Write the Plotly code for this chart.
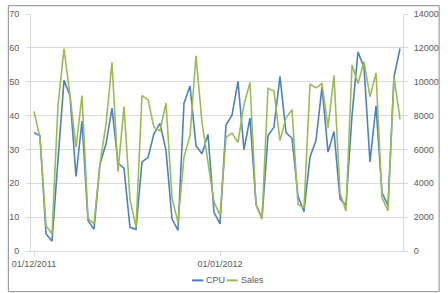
import pandas as pd
import plotly.graph_objects as go

start_date = "2011-12-01"
n_days = 62
dates = pd.date_range(start_date, periods=n_days, freq="D")

cpu = [35.0, 34.0, 5.1, 2.9, 27.0, 50.4, 45.9, 22.0, 38.4, 9.0,
       6.4, 25.8, 31.6, 42.2, 26.0, 24.4, 7.0, 6.4, 26.3, 27.6,
       34.7, 37.7, 29.7, 9.5, 6.1, 43.7, 48.7, 31.1, 28.7, 34.5,
       11.4, 8.0, 37.2, 40.1, 50.1, 29.9, 39.3, 13.8, 9.6, 34.0,
       36.6, 51.6, 35.0, 33.3, 16.2, 11.6, 27.8, 32.6, 48.5, 29.2,
       35.3, 15.4, 13.5, 40.0, 58.8, 54.3, 26.3, 42.9, 17.2, 13.5,
       51.4, 59.8]

sales = [8250, 6700, 1500, 1020, 8600, 11950, 9200, 6130, 9180, 1930,
         1600, 5170, 7480, 11150, 4690, 8540, 3050, 1410, 9180, 8930,
         7300, 7100, 8740, 3140, 1700, 5550, 6810, 11530, 7580, 5360,
         2900, 2120, 6710, 6960, 6420, 8640, 9950, 2720, 1890, 9600,
         9450, 6520, 7870, 8350, 2760, 2560, 9840, 9640, 9890, 7290,
         10370, 3430, 2370, 10990, 9890, 11180, 9120, 10510, 3140, 2370,
         10280, 7770]

x_tick_vals = ["2011-12-01", "2012-01-01"]
x_tick_text = ["01/12/2011", "01/01/2012"]
series_names = ["CPU", "Sales"]

BLUE = "#4F81BD"
GREEN = "#9BBB59"
GRID = "#d9d9d9"
TXT = "#595959"
FONT = "Liberation Sans, Arial, sans-serif"

W, H = 448, 293
ML, MR, MT, MB = 24, 38, 9, 42
PW, PH = W - ML - MR, H - MT - MB


def px(xp):
    return (xp - ML) / PW


def py(yp):
    return (H - MB - yp) / PH


fig = go.Figure()
fig.add_trace(go.Scatter(x=dates, y=cpu, name=series_names[0], mode="lines",
                         line=dict(color=BLUE, width=1.6), yaxis="y"))
fig.add_trace(go.Scatter(x=dates, y=sales, name=series_names[1], mode="lines",
                         line=dict(color=GREEN, width=1.6), yaxis="y2"))

shapes = [
    dict(type="rect", xref="paper", yref="paper",
         x0=px(0.5), x1=px(W - 0.5), y0=py(H - 0.5), y1=py(0.5),
         line=dict(color="#8c8c8c", width=1), fillcolor="rgba(0,0,0,0)", layer="below"),
    dict(type="line", xref="paper", yref="paper",
         x0=px(191), x1=px(203), y0=py(281), y1=py(281),
         line=dict(color=BLUE, width=2)),
    dict(type="line", xref="paper", yref="paper",
         x0=px(227), x1=px(238.5), y0=py(281), y1=py(281),
         line=dict(color=GREEN, width=2)),
]

annotations = [
    dict(text=series_names[0], xref="paper", yref="paper", x=px(203.5), y=py(281),
         xanchor="left", yanchor="middle", showarrow=False,
         font=dict(family=FONT, size=9, color=TXT)),
    dict(text=series_names[1], xref="paper", yref="paper", x=px(239.5), y=py(281),
         xanchor="left", yanchor="middle", showarrow=False,
         font=dict(family=FONT, size=9, color=TXT)),
]

fig.update_layout(
    width=W, height=H,
    margin=dict(l=ML, r=MR, t=MT, b=MB, pad=0),
    paper_bgcolor="white", plot_bgcolor="white",
    showlegend=False,
    font=dict(family=FONT, size=9, color=TXT),
    shapes=shapes, annotations=annotations,
    xaxis=dict(type="date", range=["2011-11-30 12:00", "2012-01-31 12:00"],
               tickvals=x_tick_vals, ticktext=x_tick_text,
               showgrid=False, showline=True, linecolor=GRID, linewidth=1,
               ticks="outside", ticklen=4, tickcolor=GRID,
               tickfont=dict(family=FONT, size=9, color=TXT), zeroline=False),
    yaxis=dict(range=[0, 70], dtick=10, showgrid=True, gridcolor=GRID, gridwidth=1,
               showline=True, linecolor=GRID, linewidth=1,
               ticks="outside", ticklen=4, tickcolor=GRID, ticklabelstandoff=5,
               tickfont=dict(family=FONT, size=9, color=TXT), zeroline=False),
    yaxis2=dict(range=[0, 14000], dtick=2000, overlaying="y", side="right",
                tickformat="d", ticklabelstandoff=4,
                showgrid=False, showline=True, linecolor=GRID, linewidth=1,
                ticks="outside", ticklen=4, tickcolor=GRID,
                tickfont=dict(family=FONT, size=9, color=TXT), zeroline=False),
)

fig.write_html("out.html")
